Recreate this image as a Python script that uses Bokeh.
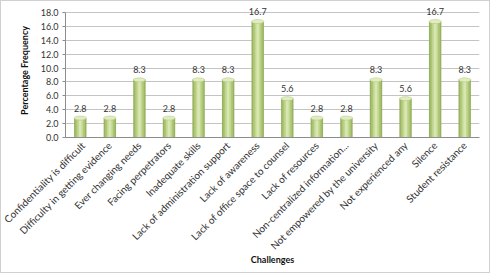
import math
from bokeh.plotting import figure
from bokeh.models import FactorRange, ColumnDataSource, NumeralTickFormatter, FixedTicker
from bokeh.core.properties import value
from bokeh.embed import file_html
from bokeh.resources import INLINE

categories = [
    "Confidentiality is difficult",
    "Difficulty in getting evidence",
    "Ever changing needs",
    "Facing perpetrators",
    "Inadequate skills",
    "Lack of administration support",
    "Lack of awareness",
    "Lack of office space to counsel",
    "Lack of resources",
    "Non-centralized information...",
    "Not empowered by the university",
    "Not experienced any",
    "Silence",
    "Student resistance",
]
percentages = [2.8, 2.8, 8.3, 2.8, 8.3, 8.3, 16.7, 5.6, 2.8, 2.8, 8.3, 5.6, 16.7, 8.3]
y_ticks = [0, 2, 4, 6, 8, 10, 12, 14, 16, 18]

labels = [f"{v:.1f}" for v in percentages]
src = ColumnDataSource(dict(cat=categories, val=percentages, lab=labels))

FONT = "Lato"

p = figure(
    width=490, height=273,
    x_range=FactorRange(*categories, range_padding=0),
    y_range=(0, 19.3),
    output_backend="svg", toolbar_location=None,
    min_border_left=64, min_border_right=12, min_border_top=2, min_border_bottom=137,
)
p.styles = {"border": "1px solid #d0d0d0"}
p.outline_line_color = None
p.background_fill_color = "white"
p.border_fill_color = "white"

# cylinder-like bars with layered shades
p.vbar(x="cat", top="val", width=0.42, source=src, fill_color="#98b262", line_color=None)
p.vbar(x="cat", top="val", width=0.32, source=src, fill_color="#adc676", line_color=None)
p.vbar(x="cat", top="val", width=0.20, source=src, fill_color="#c3d792", line_color=None)
p.vbar(x="cat", top="val", width=0.09, source=src, fill_color="#d8e6b0", line_color=None)
p.ellipse(x="cat", y="val", width=0.42, height=4, height_units="screen", source=src,
          fill_color="#e2ecc2", line_color="#adc676", line_width=0.5)

# data labels
p.text(x="cat", y="val", text="lab", source=src, text_align="center", text_baseline="middle",
       y_offset=-10, text_font=value(FONT), text_font_size="9px", text_color="#333333")

p.xgrid.grid_line_color = None
p.ygrid.grid_line_color = "#c4c4c4"
p.ygrid.grid_line_width = 1
p.yaxis.ticker = FixedTicker(ticks=y_ticks)
p.yaxis.formatter = NumeralTickFormatter(format="0.0")
p.yaxis.bounds = (0, 18)

for ax in (p.xaxis, p.yaxis):
    ax.axis_line_color = "#8c8c8c"
    ax.major_label_text_font = FONT
    ax.major_label_text_font_size = "9px"
    ax.major_label_text_color = "#333333"
    ax.axis_label_text_font = FONT
    ax.axis_label_text_font_size = "9px"
    ax.axis_label_text_font_style = "bold"
    ax.axis_label_text_color = "#111111"
    ax.minor_tick_line_color = None

p.yaxis.major_tick_line_color = "#8c8c8c"
p.yaxis.major_tick_out = 3
p.yaxis.major_tick_in = 0
p.yaxis.major_label_standoff = 4
p.yaxis.axis_label = "Percentage Frequency"
p.yaxis.axis_label_standoff = 8

p.xaxis.major_tick_line_color = None
p.xaxis.major_tick_out = 0
p.xaxis.major_label_orientation = math.pi / 4
p.xaxis.major_label_text_font_size = "10px"
p.xaxis.major_label_standoff = 6
p.xaxis.axis_label = "Challenges"
p.xaxis.axis_label_standoff = -5

open("out.html", "w").write(file_html(p, INLINE))
